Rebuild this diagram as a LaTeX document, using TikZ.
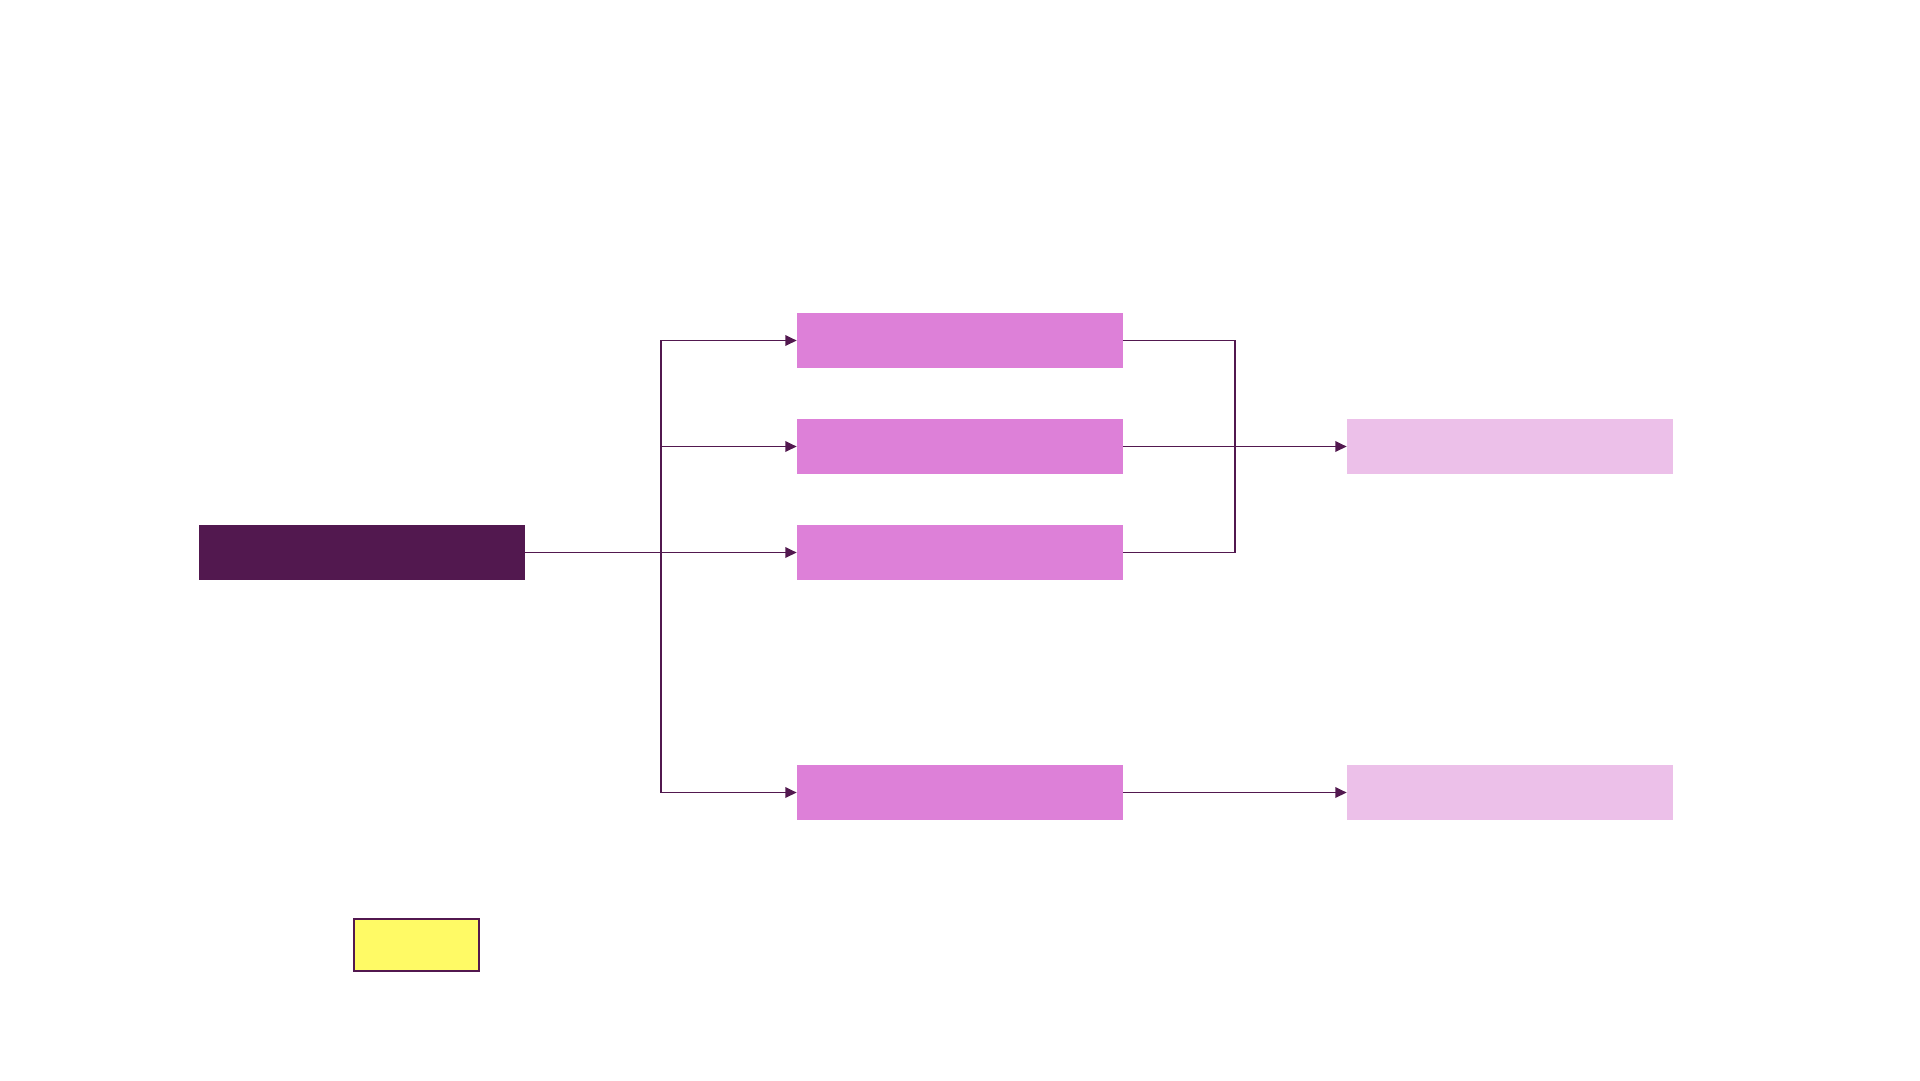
\documentclass[tikz,border=0pt]{standalone}
\usepackage{tikz}
\usetikzlibrary{positioning,arrows.meta,calc}
\definecolor{plum}{HTML}{52184F}
\definecolor{orchid}{HTML}{DD80D8}
\definecolor{lilac}{HTML}{ECC0E9}
\definecolor{lemon}{HTML}{FFFA65}
\tikzset{
  rootbox/.style={fill=plum,   draw=none, minimum width=6.52cm, minimum height=1.1cm, inner sep=0pt},
  midbox/.style ={fill=orchid, draw=none, minimum width=6.52cm, minimum height=1.1cm, inner sep=0pt},
  endbox/.style ={fill=lilac,  draw=none, minimum width=6.52cm, minimum height=1.1cm, inner sep=0pt},
  keybox/.style ={fill=lemon,  draw=plum, line width=1.1pt, minimum width=2.5cm, minimum height=1.04cm, inner sep=0pt},
  ln/.style     ={draw=plum, line width=1pt, -{Triangle[length=6.5pt,width=6pt]}},
  lnp/.style    ={draw=plum, line width=1pt},
}
\begin{document}
\begin{tikzpicture}[x=0.02cm,y=-0.02cm]
    \useasboundingbox (0,0) rectangle (1920,1080);

    \node[rootbox] (root) at (362,552.5) {};
    \node[midbox] (mid1) at (960,340.5) {};
    \node[midbox] (mid2) at (960,446.5) {};
    \node[midbox] (mid3) at (960,552.5) {};
    \node[midbox] (mid4) at (960,792.5) {};
    \node[endbox] (end1) at (1510,446.5) {};
    \node[endbox] (end2) at (1510,792.5) {};
    \node[keybox] (key) at (416.5,945) {};

    \coordinate (split) at (661,552.5);
    \coordinate (merge) at (1235,446.5);

    % fan out
    \draw[ln] (root.east) -- (mid3.west);
    \draw[ln] (split) |- (mid1.west);
    \draw[ln] (split) |- (mid2.west);
    \draw[ln] (split) |- (mid4.west);

    % fan in
    \draw[lnp] (mid1.east) -| (merge) |- (mid3.east);
    \draw[ln] (mid2.east) -- (end1.west);
    \draw[ln] (mid4.east) -- (end2.west);
\end{tikzpicture}
\end{document}
